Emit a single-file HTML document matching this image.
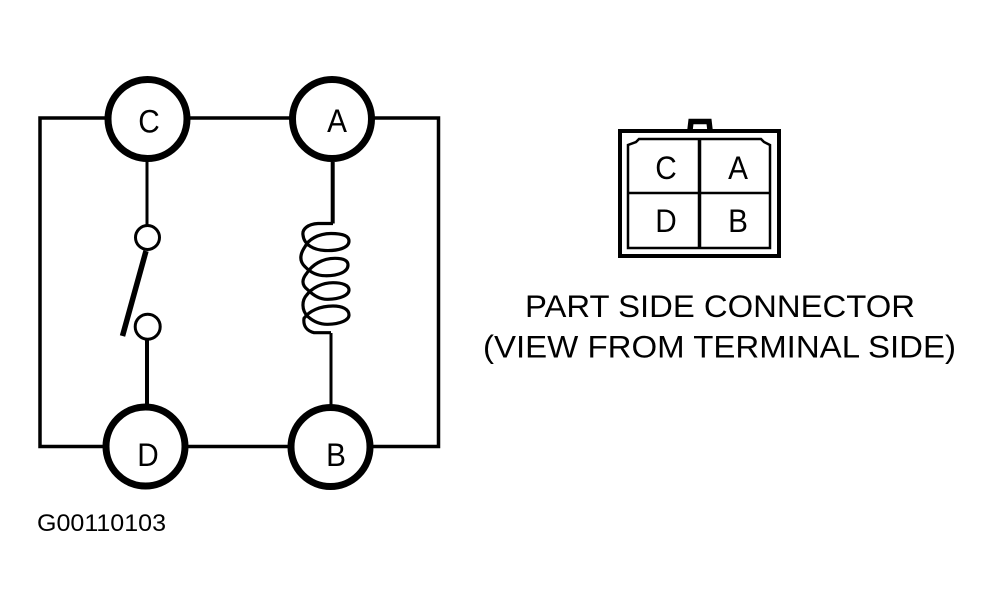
<!DOCTYPE html>
<html>
<head>
<meta charset="utf-8">
<style>
html,body{margin:0;padding:0;background:#fff;}
svg{display:block;}
text{font-family:"Liberation Sans",sans-serif;fill:#000;}
</style>
</head>
<body>
<svg width="994" height="606" viewBox="0 0 994 606" xmlns="http://www.w3.org/2000/svg">
<rect width="994" height="606" fill="#fff"/>
<g fill="none" stroke="#000">
  <!-- outer wiring -->
  <path d="M105 118H40V446.5H104" stroke-width="3.5"/>
  <path d="M190 118H290" stroke-width="3.5"/>
  <path d="M374 118H438.5V446.5H372" stroke-width="3.5"/>
  <path d="M188 446.5H288" stroke-width="3.5"/>
  <!-- terminals -->
  <circle cx="147.5" cy="119" r="39.5" stroke-width="7"/>
  <circle cx="332" cy="119" r="39.5" stroke-width="7"/>
  <circle cx="145.5" cy="446.5" r="39.5" stroke-width="7"/>
  <circle cx="330.5" cy="447" r="39.5" stroke-width="7"/>
  <!-- switch -->
  <path d="M147 160V225" stroke-width="3"/>
  <circle cx="147.5" cy="237.5" r="12" stroke-width="3"/>
  <path d="M146 251 L122.5 336" stroke-width="5.5"/>
  <circle cx="147.7" cy="326.7" r="12.5" stroke-width="3"/>
  <path d="M147 340V405" stroke-width="4"/>
  <!-- coil -->
  <path d="M332.700 162V223.500" stroke-width="4"/>
  <path d="M333 223.500H318C308 224 302 229 303 235C304 245 314 250 325 250.500C338 251 349 248 349 241C349 235 340 233.500 331 233.500C318 233.500 308 240 305 246.700C300 254 299 261 305 266.700C311 273 317 275.700 325 275.700C338 276 348 272 348 265C348 260 342 258.300 335 258.300C322 258.300 312 265 306.700 273.300C302 279 301 285 308 290C314 296 320 299.300 327 299.300C340 299.500 349 295 349 290C349 285 342 282.700 333 282.700C322 282.700 312 288 306.700 295C302 300 301 310 308 316.700C314 322 320 324.300 327 324.300C340 324.500 349 320 349 315C349 309 342 306 333 306C320 306 309 311 304 318.300C303 326 307 331 314 332.700H331" stroke-width="3.200"/>
  <path d="M331 333V405" stroke-width="3"/>
  <!-- connector -->
  <rect x="620" y="131" width="159" height="125" stroke-width="4"/>
  <path d="M690 130L691 121.500H709L710 130" stroke-width="5.500"/>
  <path d="M628 248V145L636 142L639 139H761L764 142L770 145V248Z" stroke-width="2.500"/>
  <path d="M699.500 139V248" stroke-width="3.500"/>
  <path d="M628 193H770" stroke-width="2.500"/>
</g>
<g font-size="32" text-anchor="middle">
  <text transform="translate(149 132.500) scale(.93 1)">C</text>
  <text transform="translate(337 132) scale(.93 1)">A</text>
  <text transform="translate(148 466) scale(.93 1)">D</text>
  <text transform="translate(336 466) scale(.93 1)">B</text>
  <text transform="translate(666 179) scale(.93 1)">C</text>
  <text transform="translate(738 179) scale(.93 1)">A</text>
  <text transform="translate(666 232) scale(.93 1)">D</text>
  <text transform="translate(738 232) scale(.93 1)">B</text>
</g>
<text x="525" y="317" font-size="31.500" textLength="390" lengthAdjust="spacingAndGlyphs">PART SIDE CONNECTOR</text>
<text x="483" y="357.500" font-size="31.500" textLength="473" lengthAdjust="spacingAndGlyphs">(VIEW FROM TERMINAL SIDE)</text>
<text x="37" y="531" font-size="24" textLength="129" lengthAdjust="spacingAndGlyphs">G00110103</text>
</svg>
</body>
</html>
